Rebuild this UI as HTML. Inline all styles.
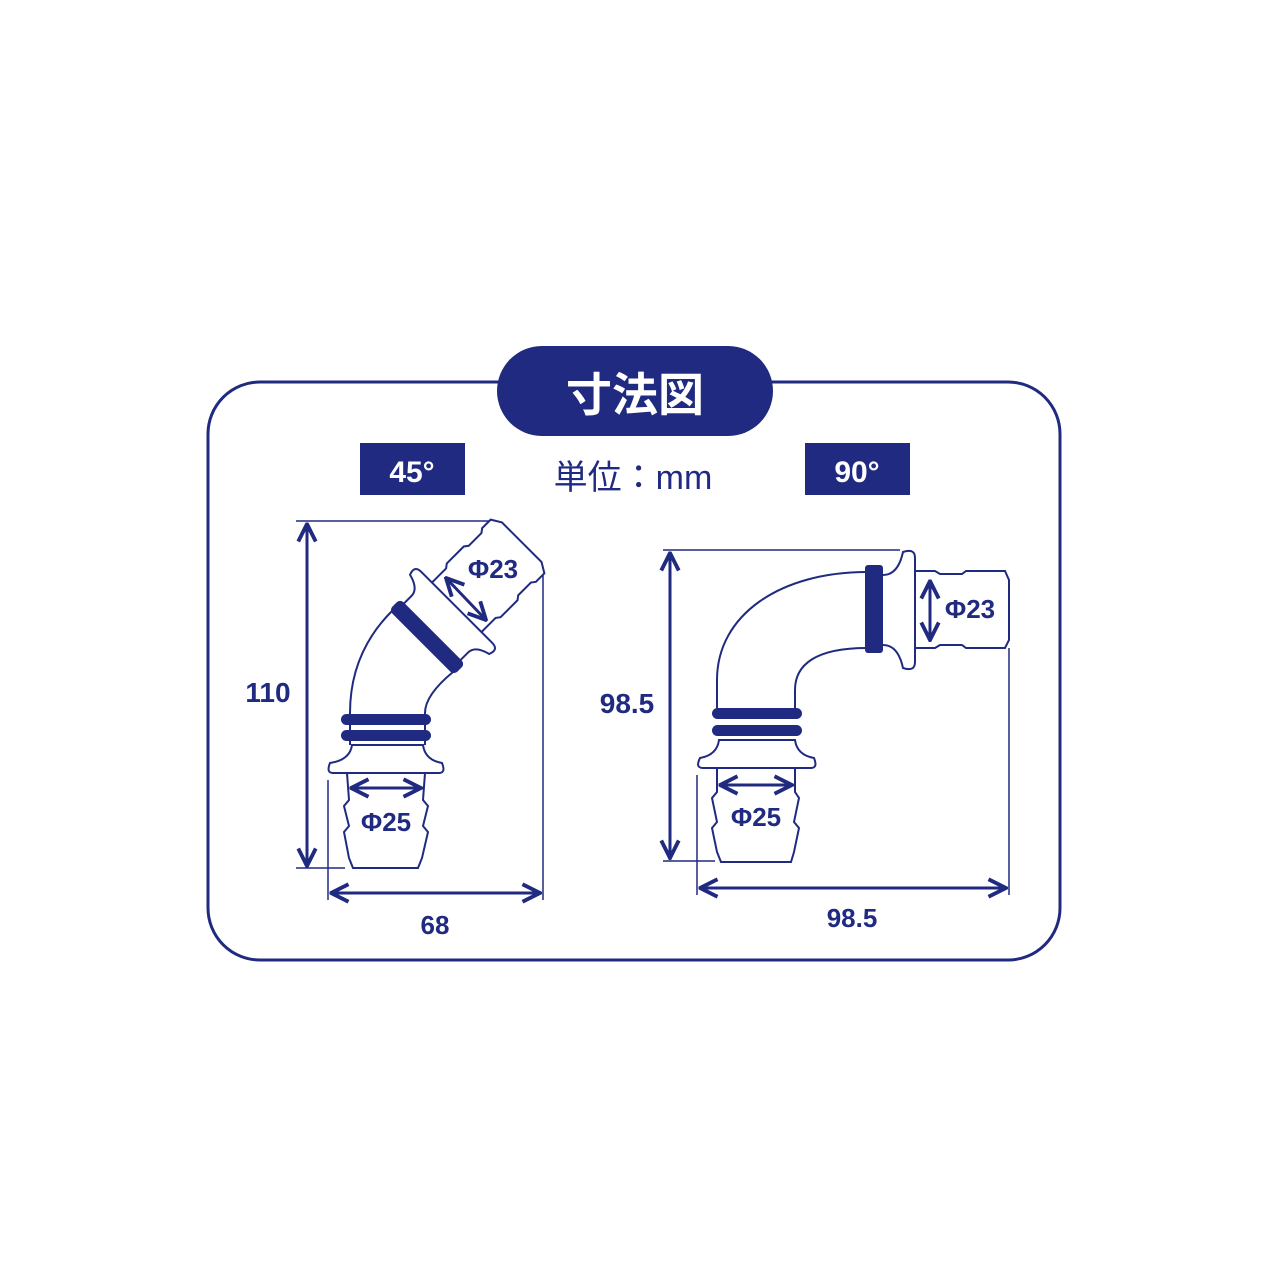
<!DOCTYPE html>
<html><head><meta charset="utf-8"><style>
html,body{margin:0;padding:0;background:#fff;}
svg{display:block;}
text{font-family:"Liberation Sans","Noto Sans CJK JP",sans-serif;fill:#1f2a80;}
</style></head><body>
<svg width="1280" height="1280" viewBox="0 0 1280 1280" xmlns="http://www.w3.org/2000/svg">
<defs>
<marker id="ah" viewBox="0 0 12 12" refX="11" refY="6" markerWidth="7" markerHeight="7" orient="auto-start-reverse" markerUnits="strokeWidth">
<path d="M1,1 L11,6 L1,11" fill="none" stroke="#1f2a80" stroke-width="2.2"/>
</marker>
</defs>
<rect x="208" y="382" width="852" height="578" rx="52" fill="none" stroke="#1f2a80" stroke-width="3"/>
<rect x="497" y="346" width="276" height="90" rx="45" fill="#1f2a80"/>
<text x="635" y="411" font-size="46" font-weight="bold" text-anchor="middle" style="fill:#fff">寸法図</text>
<rect x="360" y="443" width="105" height="52" fill="#1f2a80"/>
<text x="412" y="482" font-size="30" font-weight="bold" text-anchor="middle" style="fill:#fff">45°</text>
<rect x="805" y="443" width="105" height="52" fill="#1f2a80"/>
<text x="857" y="482" font-size="30" font-weight="bold" text-anchor="middle" style="fill:#fff">90°</text>
<text x="633" y="489" font-size="34" text-anchor="middle">単位：mm</text>

<g fill="none" stroke="#1f2a80" stroke-width="2">
<line x1="296" y1="521" x2="490" y2="521" stroke-width="1.5"/>
<line x1="296" y1="868" x2="345" y2="868" stroke-width="1.5"/>
<line x1="328" y1="780" x2="328" y2="900" stroke-width="1.5"/>
<line x1="543" y1="575" x2="543" y2="900" stroke-width="1.5"/>
<line x1="307" y1="524" x2="307" y2="866" stroke-width="3" marker-start="url(#ah)" marker-end="url(#ah)"/>
<line x1="331" y1="893" x2="540" y2="893" stroke-width="3" marker-start="url(#ah)" marker-end="url(#ah)"/>
<path d="M347,773 L425,773 L423,800 L428,806 L423,826 L428,832 L422,858 L418,868 L353,868 L349,858 L344,832 L349,826 L344,806 L349,800 Z"/>
<path d="M330,763 Q326,773 333,773 L439,773 Q446,773 442,763 Q425,760 423,745 L352,745 Q350,760 330,763 Z"/>
<path d="M350,713 Q350,653 392,611"/>
<path d="M425,713 Q425,695 453,672"/>
<line x1="350" y1="713" x2="350" y2="745"/>
<line x1="425" y1="713" x2="425" y2="745"/>
<line x1="351" y1="788" x2="421" y2="788" stroke-width="3" marker-start="url(#ah)" marker-end="url(#ah)"/>
</g>
<rect x="341" y="714" width="90" height="11" rx="5.5" fill="#1f2a80"/>
<rect x="341" y="730" width="90" height="11" rx="5.5" fill="#1f2a80"/>
<g transform="translate(427,637) rotate(-45)" fill="none" stroke="#1f2a80" stroke-width="2">
<path d="M6,-40 L18,-40 Q28,-40 32,-56 Q42,-60 42,-50 L42,50 Q42,60 32,56 Q28,40 18,40 L6,40"/>
<path d="M42,-35 L62,-35 L66,-38 L90,-38 L94,-35 L112,-35 L116,-38 L128,-38 L134,-28 L134,28 L128,38 L116,38 L112,35 L94,35 L90,38 L66,38 L62,35 L42,35"/>
<rect x="-8" y="-46" width="16" height="92" rx="5" fill="#1f2a80" stroke="none"/>
</g>
<line x1="446" y1="578" x2="486" y2="620" stroke="#1f2a80" stroke-width="3" marker-start="url(#ah)" marker-end="url(#ah)"/>
<text x="268" y="702" font-size="28" font-weight="bold" text-anchor="middle">110</text>
<text x="435" y="934" font-size="26" font-weight="bold" text-anchor="middle">68</text>
<text x="386" y="831" font-size="26" font-weight="bold" text-anchor="middle">Φ25</text>
<text x="493" y="578" font-size="26" font-weight="bold" text-anchor="middle">Φ23</text>

<g fill="none" stroke="#1f2a80" stroke-width="2">
<line x1="663" y1="550" x2="900" y2="550" stroke-width="1.5"/>
<line x1="663" y1="861" x2="715" y2="861" stroke-width="1.5"/>
<line x1="697" y1="775" x2="697" y2="895" stroke-width="1.5"/>
<line x1="1009" y1="648" x2="1009" y2="895" stroke-width="1.5"/>
<line x1="670" y1="553" x2="670" y2="858" stroke-width="3" marker-start="url(#ah)" marker-end="url(#ah)"/>
<line x1="700" y1="888" x2="1006" y2="888" stroke-width="3" marker-start="url(#ah)" marker-end="url(#ah)"/>
<path d="M717,768 L795,768 L795,792 L799,798 L794,822 L799,828 L794,852 L791,862 L721,862 L717,852 L712,828 L717,822 L712,798 L717,792 Z"/>
<path d="M700,758 Q695,768 703,768 L811,768 Q818,768 814,758 Q797,755 795,740 L719,740 Q717,755 700,758 Z"/>
<path d="M717,708 L717,680 C717,615 780,572 867,572"/>
<path d="M795,708 L795,690 C795,665 815,648 867,648"/>
<path d="M883,575 Q898,575 903,552 Q915,548 915,558 L915,662 Q915,672 903,668 Q898,645 883,645"/>
<path d="M915,571 L935,571 L940,574 L962,574 L966,571 L1005,571 L1009,580 L1009,640 L1005,648 L966,648 L962,645 L940,645 L935,648 L915,648"/>
<line x1="720" y1="785" x2="792" y2="785" stroke-width="3" marker-start="url(#ah)" marker-end="url(#ah)"/>
<line x1="930" y1="581" x2="930" y2="640" stroke-width="3" marker-start="url(#ah)" marker-end="url(#ah)"/>
</g>
<rect x="712" y="708" width="90" height="11" rx="5.5" fill="#1f2a80"/>
<rect x="712" y="725" width="90" height="11" rx="5.5" fill="#1f2a80"/>
<rect x="865" y="565" width="18" height="88" rx="3" fill="#1f2a80"/>
<text x="627" y="713" font-size="28" font-weight="bold" text-anchor="middle">98.5</text>
<text x="852" y="927" font-size="26" font-weight="bold" text-anchor="middle">98.5</text>
<text x="756" y="826" font-size="26" font-weight="bold" text-anchor="middle">Φ25</text>
<text x="970" y="618" font-size="26" font-weight="bold" text-anchor="middle">Φ23</text>
</svg>
</body></html>
